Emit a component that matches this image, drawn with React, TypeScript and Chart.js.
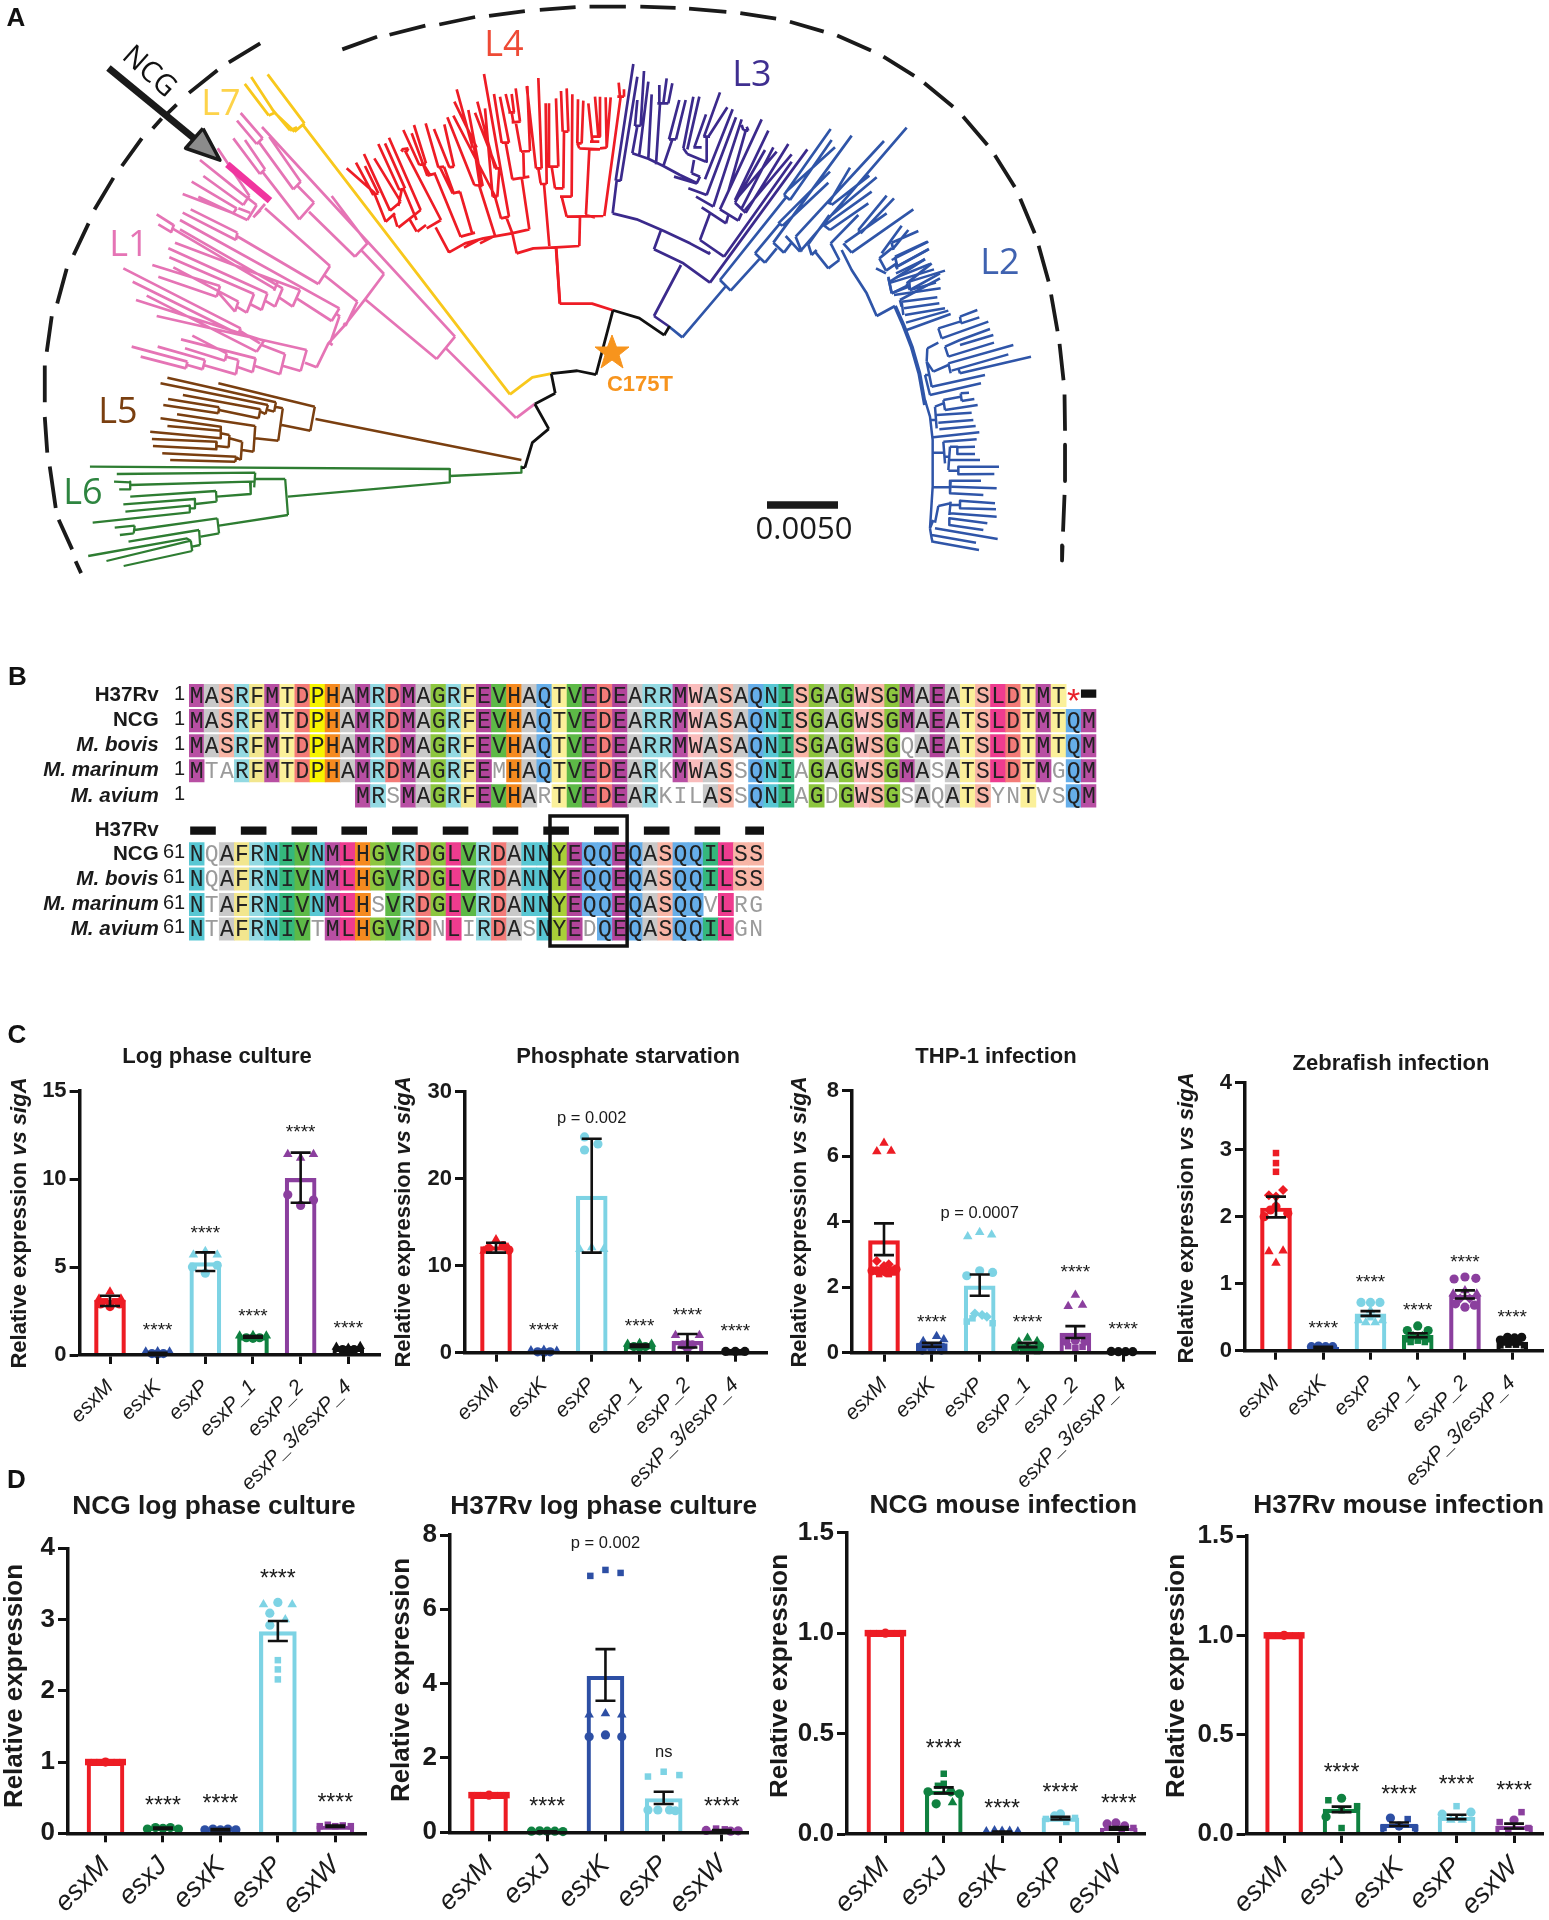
import { useEffect, useRef } from "react";
import { Chart, registerables } from "chart.js";

Chart.register(...registerables);

const SANS = "'Liberation Sans', Arial, sans-serif";
const HUMAN = "'Open Sans', sans-serif";
const MONO = "'Liberation Mono', 'Courier New', monospace";

/* ---------- panels C and D: values ---------- */
const RED = "#ed1c24", BLUE = "#2d4fa4", CYAN = "#7dd3e4", GREEN = "#0f8140", PURPLE = "#8b3f9e", BLACK = "#111111";
const genesC = ["esxM", "esxK", "esxP", "esxP_1", "esxP_2", "esxP_3/esxP_4"];
const genesD = ["esxM", "esxJ", "esxK", "esxP", "esxW"];
const colorsC = [RED, BLUE, CYAN, GREEN, PURPLE, BLACK];
const colorsD = [RED, GREEN, BLUE, CYAN, PURPLE];

type Dot = [number, number, string];
const logMeans = [3.12, 0.1, 5.25, 1.04, 10.04, 0.35];
const logLow = [2.78, 0.08, 4.77, 0.98, 8.65, 0.3];
const logHigh = [3.37, 0.12, 5.83, 1.08, 11.5, 0.42];
const logDots: Dot[][] = [
  [[-0.23, 3.2, "t"], [0, 3.6, "t"], [0.23, 3.2, "t"], [-0.2, 2.9, "c"], [0, 2.75, "c"], [0.2, 2.9, "c"], [-0.1, 3.05, "s"], [0.1, 3.05, "s"]],
  [[-0.25, 0.18, "t"], [0, 0.2, "t"], [0.25, 0.18, "t"], [-0.12, 0.08, "c"], [0.12, 0.08, "c"], [0, 0.06, "c"]],
  [[-0.25, 5.7, "t"], [0, 5.9, "t"], [0.25, 5.7, "t"], [-0.27, 5.0, "c"], [0.25, 5.1, "c"], [0, 4.65, "c"]],
  [[-0.28, 1.1, "t"], [0.28, 1.1, "t"], [0, 1.12, "t"], [-0.14, 0.98, "c"], [0.14, 0.98, "c"], [0, 0.95, "c"]],
  [[-0.27, 11.4, "t"], [0.27, 11.4, "t"], [0, 11.2, "t"], [-0.27, 9.1, "c"], [0.27, 8.8, "c"], [0, 8.5, "c"]],
  [[-0.25, 0.45, "t"], [0.25, 0.5, "t"], [0, 0.4, "t"], [-0.12, 0.3, "c"], [0.12, 0.3, "c"], [0, 0.28, "c"]],
];
const logStars: number[][] = [[1, 1.6], [2, 7.14], [3, 2.42], [4, 12.84], [5, 1.74]];

const phosMeans = [12.2, 0.1, 18, 0.8, 1.3, 0.08];
const phosLow = [11.5, 0.06, 11.5, 0.65, 0.6, 0.05];
const phosHigh = [12.64, 0.14, 24.6, 0.95, 2.15, 0.1];
const phosDots: Dot[][] = [
  [[-0.25, 11.7, "t"], [0, 13, "t"], [0.25, 12.1, "t"], [-0.15, 12, "c"], [0.15, 12.3, "c"], [0.27, 11.8, "c"]],
  [[-0.27, 0.25, "t"], [0, 0.3, "t"], [0.27, 0.2, "t"], [-0.13, 0.1, "c"], [0.13, 0.1, "c"], [0, 0.05, "c"]],
  [[-0.15, 24.8, "c"], [-0.15, 23.3, "c"], [0.13, 24, "c"], [-0.25, 11.9, "t"], [0, 12.1, "t"], [0.25, 11.9, "t"]],
  [[-0.25, 1, "t"], [0, 1.1, "t"], [0.25, 1, "t"], [-0.12, 0.7, "c"], [0.12, 0.7, "c"], [0, 0.65, "c"]],
  [[-0.25, 2.0, "t"], [0.25, 2.0, "t"], [0, 1.2, "t"], [0, 0.5, "c"], [-0.1, 0.9, "c"], [0.1, 0.9, "c"]],
  [[-0.2, 0.15, "c"], [0, 0.15, "c"], [0.2, 0.15, "c"], [-0.1, 0.05, "s"], [0.1, 0.05, "s"]],
];
const phosStars: number[][] = [[1, 3], [3, 3.45], [4, 4.67], [5, 2.9]];
const phosNotes: [number, number, string][] = [[2, 26.9, "p = 0.002"]];

const thpMeans = [3.42, 0.28, 2.04, 0.25, 0.6, 0.03];
const thpLow = [2.98, 0.18, 1.74, 0.17, 0.45, 0.02];
const thpHigh = [3.95, 0.3, 2.39, 0.3, 0.81, 0.04];
const thpDots: Dot[][] = [
  [[-0.15, 6.14, "t"], [0, 6.4, "t"], [0.15, 6.16, "t"], [-0.15, 2.8, "d"], [0.1, 2.7, "d"], [0, 2.65, "d"], [-0.25, 2.5, "c"], [-0.15, 2.5, "c"], [-0.05, 2.5, "c"], [0.05, 2.45, "c"], [0.15, 2.5, "c"], [0.25, 2.55, "c"], [-0.1, 2.4, "s"], [0.1, 2.4, "s"], [0.2, 2.45, "s"]],
  [[-0.18, 0.35, "t"], [0.1, 0.5, "t"], [0.25, 0.4, "t"], [-0.25, 0.2, "s"], [-0.1, 0.2, "s"], [0.05, 0.2, "s"], [0.2, 0.2, "s"], [-0.2, 0.08, "c"], [0, 0.08, "c"], [0.2, 0.08, "c"]],
  [[-0.25, 3.55, "t"], [0, 3.68, "t"], [0.25, 3.6, "t"], [-0.27, 2.35, "c"], [0, 2.5, "c"], [0.27, 2.45, "c"], [-0.1, 1.2, "d"], [0.05, 1.15, "d"], [0.15, 1.1, "d"], [-0.27, 0.95, "s"], [0.27, 0.9, "s"], [-0.15, 1.05, "s"]],
  [[0, 0.45, "t"], [-0.18, 0.33, "t"], [0.2, 0.35, "t"], [-0.25, 0.15, "c"], [0.25, 0.2, "c"], [0, 0.15, "c"], [-0.1, 0.05, "s"], [0.1, 0.08, "s"], [0.2, 0.05, "s"]],
  [[0, 1.76, "t"], [-0.15, 1.42, "t"], [0.15, 1.46, "t"], [-0.2, 0.35, "c"], [0, 0.38, "c"], [0.2, 0.35, "c"], [-0.15, 0.2, "s"], [0, 0.15, "s"], [0.15, 0.18, "s"]],
  [[-0.25, 0.04, "c"], [-0.1, 0.03, "c"], [0.05, 0.03, "c"], [0.2, 0.03, "c"]],
];
const thpStars: number[][] = [[1, 1.05], [3, 1.05], [4, 2.56], [5, 0.84]];
const thpNotes: [number, number, string][] = [[2, 4.25, "p = 0.0007"]];

const zebMeans = [2.13, 0.05, 0.55, 0.23, 0.83, 0.13];
const zebLow = [1.99, 0.04, 0.52, 0.2, 0.78, 0.11];
const zebHigh = [2.3, 0.06, 0.59, 0.26, 0.9, 0.15];
const zebDots: Dot[][] = [
  [[0, 2.95, "s"], [0, 2.8, "s"], [0, 2.67, "s"], [0.15, 2.4, "d"], [0, 2.3, "d"], [-0.15, 2.32, "d"], [-0.25, 2.0, "c"], [0.25, 2.05, "c"], [0, 2.15, "c"], [-0.12, 2.1, "c"], [-0.15, 1.48, "t"], [0.15, 1.49, "t"], [0, 1.31, "t"]],
  [[-0.25, 0.06, "c"], [-0.1, 0.07, "c"], [0.05, 0.06, "c"], [0.2, 0.06, "c"], [-0.15, 0.04, "s"], [0.15, 0.04, "s"]],
  [[-0.2, 0.72, "c"], [0, 0.72, "c"], [0.2, 0.72, "c"], [0, 0.6, "t"], [-0.25, 0.45, "t"], [0.25, 0.45, "t"], [-0.1, 0.42, "t"], [0.1, 0.42, "t"], [0, 0.5, "s"]],
  [[0, 0.37, "c"], [-0.22, 0.3, "c"], [0.22, 0.3, "c"], [-0.25, 0.17, "s"], [0.25, 0.17, "s"], [0, 0.15, "s"], [-0.1, 0.22, "d"], [0.1, 0.22, "d"], [-0.15, 0.13, "s"], [0.15, 0.13, "s"]],
  [[-0.23, 1.07, "c"], [0, 1.1, "c"], [0.23, 1.08, "c"], [-0.25, 0.85, "t"], [0.25, 0.85, "t"], [0, 0.9, "t"], [-0.2, 0.7, "c"], [0, 0.65, "c"], [0.2, 0.68, "c"], [-0.1, 0.78, "d"], [0.1, 0.78, "d"]],
  [[-0.25, 0.16, "c"], [-0.1, 0.2, "c"], [0.05, 0.19, "c"], [0.2, 0.2, "c"], [-0.25, 0.08, "s"], [-0.08, 0.09, "s"], [0.08, 0.09, "s"], [0.25, 0.08, "s"], [0, 0.13, "s"]],
];
const zebStars: number[][] = [[1, 0.39], [2, 1.07], [3, 0.66], [4, 1.37], [5, 0.56]];

const ncgLogMeans = [1, 0.07, 0.05, 2.83, 0.1];
const ncgLogLow = [1, 0.06, 0.04, 2.7, 0.09];
const ncgLogHigh = [1, 0.08, 0.06, 2.98, 0.11];
const ncgLogDots: Dot[][] = [
  [[-0.3, 1, "s"], [-0.2, 1, "s"], [-0.1, 1, "s"], [0, 1, "c"], [0.1, 1, "s"], [0.2, 1, "s"], [0.3, 1, "s"]],
  [[-0.27, 0.06, "c"], [-0.13, 0.08, "c"], [0, 0.07, "c"], [0.13, 0.08, "c"], [0.27, 0.06, "c"]],
  [[-0.27, 0.05, "c"], [-0.13, 0.06, "c"], [0, 0.05, "c"], [0.13, 0.06, "c"], [0.27, 0.05, "c"]],
  [[-0.25, 3.21, "t"], [0.25, 3.21, "t"], [0, 3.24, "c"], [-0.14, 3.09, "c"], [-0.14, 2.92, "c"], [0.13, 3.0, "t"], [0, 2.43, "s"], [0, 2.3, "s"], [0, 2.16, "s"]],
  [[-0.27, 0.1, "s"], [-0.13, 0.12, "s"], [0, 0.1, "s"], [0.13, 0.11, "s"], [0.27, 0.1, "s"]],
];
const ncgLogStars: number[][] = [[1, 0.44], [2, 0.47], [3, 3.63], [4, 0.49]];

const rvLogMeans = [1, 0.02, 4.2, 0.91, 0.05];
const rvLogLow = [1, 0.01, 3.54, 0.76, 0.04];
const rvLogHigh = [1, 0.03, 4.93, 1.09, 0.06];
const rvLogDots: Dot[][] = [
  [[-0.3, 1, "s"], [-0.2, 1, "s"], [-0.1, 1, "s"], [0, 1, "c"], [0.1, 1, "s"], [0.2, 1, "s"], [0.3, 1, "s"]],
  [[-0.27, 0.03, "c"], [-0.13, 0.04, "c"], [0, 0.03, "c"], [0.13, 0.03, "c"], [0.27, 0.02, "c"]],
  [[0, 7.06, "s"], [-0.26, 6.9, "s"], [0.26, 6.98, "s"], [-0.28, 3.16, "t"], [0, 3.2, "t"], [0.28, 3.16, "t"], [-0.28, 2.57, "c"], [0, 2.62, "c"], [0.28, 2.57, "c"]],
  [[0, 1.63, "s"], [-0.27, 1.5, "s"], [0.27, 1.54, "s"], [-0.27, 0.6, "c"], [-0.1, 0.6, "c"], [0.1, 0.6, "c"], [0.2, 0.58, "c"]],
  [[-0.27, 0.05, "c"], [-0.1, 0.1, "s"], [0.05, 0.08, "s"], [0.15, 0.03, "c"], [0.28, 0.04, "c"]],
];
const rvLogStars: number[][] = [[1, 0.8], [4, 0.8]];
const rvLogNotes: [number, number, string][] = [[2, 7.78, "p = 0.002"], [3, 2.14, "ns"]];

const ncgMouseMeans = [1, 0.214, 0.01, 0.08, 0.03];
const ncgMouseLow = [1, 0.202, 0.005, 0.072, 0.022];
const ncgMouseHigh = [1, 0.232, 0.012, 0.086, 0.034];
const ncgMouseDots: Dot[][] = [
  [[-0.3, 1, "s"], [-0.2, 1, "s"], [-0.1, 1, "s"], [0, 1, "c"], [0.1, 1, "s"], [0.2, 1, "s"], [0.3, 1, "s"]],
  [[0, 0.3, "s"], [0, 0.25, "s"], [-0.1, 0.24, "s"], [-0.27, 0.21, "c"], [0.27, 0.2, "c"], [0.12, 0.21, "c"], [-0.13, 0.15, "c"], [0.15, 0.157, "t"]],
  [[-0.27, 0.012, "t"], [-0.13, 0.018, "t"], [0, 0.015, "t"], [0.13, 0.015, "t"], [0.27, 0.012, "t"]],
  [[-0.25, 0.075, "s"], [-0.1, 0.09, "c"], [0, 0.1, "c"], [0.1, 0.06, "s"], [0.25, 0.08, "s"]],
  [[-0.2, 0.05, "c"], [-0.05, 0.055, "c"], [0.1, 0.04, "c"], [0.25, 0.03, "s"], [0.05, 0.015, "s"]],
];
const ncgMouseStars: number[][] = [[1, 0.443], [2, 0.144], [3, 0.227], [4, 0.169]];

const rvMouseMeans = [1, 0.125, 0.05, 0.085, 0.04];
const rvMouseLow = [1, 0.11, 0.04, 0.075, 0.028];
const rvMouseHigh = [1, 0.138, 0.058, 0.097, 0.052];
const rvMouseDots: Dot[][] = [
  [[-0.3, 1, "s"], [-0.2, 1, "s"], [-0.1, 1, "s"], [0, 1, "c"], [0.1, 1, "s"], [0.2, 1, "s"], [0.3, 1, "s"]],
  [[0, 0.18, "c"], [-0.23, 0.17, "s"], [0.27, 0.14, "s"], [0, 0.12, "s"], [-0.27, 0.087, "c"], [0, 0.03, "s"]],
  [[-0.15, 0.08, "c"], [0.15, 0.075, "s"], [-0.27, 0.03, "s"], [0.28, 0.03, "s"], [0, 0.04, "c"]],
  [[0, 0.14, "s"], [-0.25, 0.1, "c"], [0.25, 0.11, "c"], [-0.1, 0.07, "t"], [0.1, 0.07, "t"]],
  [[0.13, 0.11, "s"], [-0.25, 0.06, "s"], [0, 0.07, "c"], [0.25, 0.03, "s"], [-0.1, 0.01, "s"]],
];
const rvMouseStars: number[][] = [[1, 0.327], [2, 0.216], [3, 0.27], [4, 0.238]];

/* ---------- panels C and D: layout ---------- */
type Spec = {
  rect: number[]; axisX: number; endX: number; topY: number; zeroY: number; firstX: number; lastX: number;
  title: string; titleX: number; titleY: number; titleSize: number;
  ylabelX: number; ylabelY: number; ylabelSize: number; sigA: boolean;
  labels: string[]; colors: string[]; means: number[]; low: number[]; high: number[]; dots: Dot[][];
  stars: number[][]; notes?: [number, number, string][];
  max: number; step: number; decimals: number; tickSize: number; xSize: number; xPad: number; starSize: number; barW: number;
};
const cCommon = { labels: genesC, colors: colorsC, ylabelSize: 22, sigA: true, titleSize: 22, tickSize: 22, xSize: 21, xPad: 11, starSize: 19, barW: 31, decimals: 0 };
const dCommon = { labels: genesD, colors: colorsD, ylabelSize: 26, sigA: false, titleSize: 26.3, tickSize: 26, xSize: 27, xPad: 8, starSize: 23, barW: 37 };
const specs: Spec[] = [
  { ...cCommon, rect: [0, 1040, 392, 455], axisX: 79.6, endX: 380.6, topY: 1091, zeroY: 1355, firstX: 110, lastX: 348.3, title: "Log phase culture", titleX: 217, titleY: 1056.7, ylabelX: 20, ylabelY: 1223, means: logMeans, low: logLow, high: logHigh, dots: logDots, stars: logStars, max: 15, step: 5 },
  { ...cCommon, rect: [392, 1040, 384, 455], axisX: 465, endX: 767, topY: 1091.7, zeroY: 1352.7, firstX: 496, lastX: 735.3, title: "Phosphate starvation", titleX: 628, titleY: 1056.7, ylabelX: 404, ylabelY: 1222, means: phosMeans, low: phosLow, high: phosHigh, dots: phosDots, stars: phosStars, notes: phosNotes, max: 30, step: 10 },
  { ...cCommon, rect: [776, 1040, 386, 455], axisX: 852, endX: 1155.6, topY: 1090.7, zeroY: 1352.7, firstX: 884, lastX: 1123.2, title: "THP-1 infection", titleX: 996, titleY: 1056.7, ylabelX: 800, ylabelY: 1222, means: thpMeans, low: thpLow, high: thpHigh, dots: thpDots, stars: thpStars, notes: thpNotes, max: 8, step: 2 },
  { ...cCommon, rect: [1162, 1040, 387, 455], axisX: 1245, endX: 1543.6, topY: 1082.7, zeroY: 1350.7, firstX: 1276, lastX: 1512.3, title: "Zebrafish infection", titleX: 1391, titleY: 1064, ylabelX: 1187, ylabelY: 1218, means: zebMeans, low: zebLow, high: zebHigh, dots: zebDots, stars: zebStars, max: 4, step: 1 },
  { ...dCommon, rect: [0, 1490, 385, 430], axisX: 68, endX: 366.7, topY: 1548.3, zeroY: 1833.3, firstX: 105.5, lastX: 335.3, title: "NCG log phase culture", titleX: 214, titleY: 1506.7, ylabelX: 15, ylabelY: 1686, means: ncgLogMeans, low: ncgLogLow, high: ncgLogHigh, dots: ncgLogDots, stars: ncgLogStars, max: 4, step: 1, decimals: 0 },
  { ...dCommon, rect: [385, 1490, 385, 430], axisX: 450, endX: 748.8, topY: 1535, zeroY: 1832.3, firstX: 489, lastX: 721.9, title: "H37Rv log phase culture", titleX: 603.7, titleY: 1506.7, ylabelX: 402, ylabelY: 1680, means: rvLogMeans, low: rvLogLow, high: rvLogHigh, dots: rvLogDots, stars: rvLogStars, notes: rvLogNotes, max: 8, step: 2, decimals: 0 },
  { ...dCommon, rect: [770, 1490, 390, 430], axisX: 847, endX: 1145.6, topY: 1532.7, zeroY: 1834, firstX: 885.4, lastX: 1118.8, title: "NCG mouse infection", titleX: 1003.3, titleY: 1506, ylabelX: 780, ylabelY: 1676, means: ncgMouseMeans, low: ncgMouseLow, high: ncgMouseHigh, dots: ncgMouseDots, stars: ncgMouseStars, max: 1.5, step: 0.5, decimals: 1 },
  { ...dCommon, rect: [1160, 1490, 389, 430], axisX: 1246.6, endX: 1546, topY: 1536, zeroY: 1834, firstX: 1284.4, lastX: 1516.3, title: "H37Rv mouse infection", titleX: 1398.7, titleY: 1506, ylabelX: 1177, ylabelY: 1676, means: rvMouseMeans, low: rvMouseLow, high: rvMouseHigh, dots: rvMouseDots, stars: rvMouseStars, max: 1.5, step: 0.5, decimals: 1 },
];
const shapeNames: Record<string, string> = { t: "triangle", c: "circle", s: "rect", d: "rectRot" };
const shapeRadius: Record<string, number> = { t: 5.5, c: 4.6, s: 4.6, d: 5 };

function makeBarChart(canvas: HTMLCanvasElement, s: Spec) {
  const [L, T, W, H] = s.rect;
  const n = s.labels.length;
  const stepX = (s.lastX - s.firstX) / (n - 1);
  const capW = 10 / stepX;
  const whisker: any[] = [];
  s.means.forEach((_, i) => {
    const lo = s.low[i], hi = s.high[i];
    if (lo === hi) return;
    whisker.push({ x: i, y: lo }, { x: i, y: hi }, { x: i, y: null }, { x: i - capW, y: hi }, { x: i + capW, y: hi }, { x: i, y: null }, { x: i - capW, y: lo }, { x: i + capW, y: lo }, { x: i, y: null });
  });
  const dotData: any[] = [], dotStyle: string[] = [], dotColor: string[] = [], dotRadius: number[] = [];
  s.dots.forEach((list, i) => list.forEach(([dx, y, sh]) => {
    dotData.push({ x: i + dx, y });
    dotStyle.push(shapeNames[sh]);
    dotColor.push(s.colors[i]);
    dotRadius.push(shapeRadius[sh]);
  }));
  const annot = {
    id: "annot",
    afterDraw(chart: any) {
      const c = chart.ctx, sx = chart.scales.x, sy = chart.scales.y;
      c.save();
      c.fillStyle = "#1a1a1a";
      c.textAlign = "center";
      c.textBaseline = "middle";
      c.font = `bold ${s.titleSize}px ${SANS}`;
      c.fillText(s.title, s.titleX - L, s.titleY - T);
      c.font = `normal ${s.starSize}px ${SANS}`;
      s.stars.forEach(([i, v]) => c.fillText("****", sx.getPixelForValue(i), sy.getPixelForValue(v) + s.starSize * 0.22));
      c.font = `normal 16.5px ${SANS}`;
      (s.notes || []).forEach(([i, v, t]) => c.fillText(t, sx.getPixelForValue(i), sy.getPixelForValue(v)));
      // y axis title with its italic runs
      c.translate(s.ylabelX - L, s.ylabelY - T);
      c.rotate(-Math.PI / 2);
      const runs: [string, string][] = s.sigA
        ? [["Relative expression ", "bold"], ["vs ", "italic bold"], ["sigA", "italic bold"]]
        : [["Relative expression", "bold"]];
      let total = 0;
      runs.forEach(([t, f]) => { c.font = `${f} ${s.ylabelSize}px ${SANS}`; total += c.measureText(t).width; });
      let x = -total / 2;
      c.textAlign = "left";
      runs.forEach(([t, f]) => { c.font = `${f} ${s.ylabelSize}px ${SANS}`; c.fillText(t, x, 0); x += c.measureText(t).width; });
      c.restore();
    },
  };
  return new Chart(canvas, {
    type: "bar",
    data: {
      datasets: [
        { type: "scatter", showLine: true, data: whisker, borderColor: "#111", borderWidth: 2.6, pointRadius: 0, spanGaps: false, clip: false, order: 0 } as any,
        { type: "scatter", data: dotData, pointStyle: dotStyle, pointBackgroundColor: dotColor, pointBorderWidth: 0, pointRadius: dotRadius, clip: false, order: 1 } as any,
        { type: "bar", data: s.means.map((v, i) => ({ x: i, y: v })), backgroundColor: "rgba(255,255,255,0)", borderColor: s.colors, borderWidth: 3.5, barThickness: s.barW, borderSkipped: "bottom", order: 2 } as any,
      ],
    },
    options: {
      animation: false,
      responsive: false,
      maintainAspectRatio: false,
      layout: { padding: { top: s.topY - T, right: L + W - s.endX, left: 0, bottom: 0 } },
      plugins: { legend: { display: false }, tooltip: { enabled: false }, title: { display: false } },
      scales: {
        x: {
          type: "linear",
          offset: false,
          min: (s.axisX - s.firstX) / stepX,
          max: (s.endX - s.firstX) / stepX,
          afterBuildTicks: (sc: any) => { sc.ticks = s.labels.map((_, i) => ({ value: i })); },
          afterFit: (sc: any) => { sc.height = T + H - s.zeroY; },
          grid: { offset: false, drawOnChartArea: false, tickLength: 9, tickWidth: 3, tickColor: "#111", z: 1 },
          border: { width: 3.5, color: "#111", z: 1 },
          ticks: {
            autoSkip: false, maxRotation: 45, minRotation: 45, padding: s.xPad, color: "#1a1a1a",
            font: { family: SANS, size: s.xSize, style: "italic" },
            callback: (v: any) => s.labels[v],
          },
        },
        y: {
          type: "linear",
          min: 0,
          max: s.max,
          afterFit: (sc: any) => { sc.width = s.axisX - L; },
          grid: { drawOnChartArea: false, tickLength: 10, tickWidth: 3, tickColor: "#111", z: 1 },
          border: { width: 3.5, color: "#111", z: 1 },
          ticks: {
            stepSize: s.step, padding: 3, color: "#1a1a1a",
            font: { family: SANS, size: s.tickSize, weight: "bold" },
            callback: (v: any) => Number(v).toFixed(s.decimals),
          },
        },
      },
    } as any,
    plugins: [annot],
  } as any);
}

/* ---------- panel B: values ---------- */
const seqTop = [
  "MASRFMTDPHAMRDMAGRFEVHAQTVEDEARRMWASAQNISGAGWSGMAEATSLDTMT",
  "MASRFMTDPHAMRDMAGRFEVHAQTVEDEARRMWASAQNISGAGWSGMAEATSLDTMTQM",
  "MASRFMTDPHAMRDMAGRFEVHAQTVEDEARRMWASAQNISGAGWSGqAEATSLDTMTQM",
  "MtaRFMTDPHAMRDMAGRFEmHAQTVEDEARkMWASsQNIaGAGWSGMAsATSLDTMgQM",
  "           MRsMAGRFEVHArTVEDEARkilASsQNIaGdGWSGsAqATSynTvsQM",
];
const seqBottom = [
  "NqAFRNIVNMLHGVRDGLVRDANNYEQQEQASQQILSS",
  "NqAFRNIVNMLHGVRDGLVRDANNYEQQEQASQQILSS",
  "NtAFRNIVNMLHsVRDGLVRDANNYEQQEQASQQvLrg",
  "NtAFRNIVtMLHGVRDnLiRDAsNYEdQEQASQQILgn",
];
const namesTop = ["H37Rv", "NCG", "M. bovis", "M. marinum", "M. avium"];
const namesBottom = ["NCG", "M. bovis", "M. marinum", "M. avium"];
const rowsTop = [0, 1, 2, 3, 4];
const dashRow = 5.38;
const rowsBottom = [6.31, 7.31, 8.33, 9.3];
const dashCols = [[0.1, 1.75], [3.45, 5.1], [6.8, 8.45], [10.1, 11.75], [13.45, 15.1], [16.8, 18.45], [20.1, 21.75], [23.45, 25.1], [26.8, 28.4], [30.1, 31.75], [33.45, 35.1], [36.8, 38]];
const stopCol = [59, 60];
const residueColors: Record<string, string> = {
  M: "#b84fa3", A: "#c9c9c9", S: "#f8b5a6", R: "#93d9e2", F: "#f2e68e", T: "#fbf09a", D: "#f37b78", P: "#f7f400", H: "#f58a1f",
  G: "#8dc63f", E: "#b2459b", V: "#5db947", Q: "#66aee9", N: "#58c7d3", I: "#35b77c", W: "#f9bcbc", L: "#ee3c8f", Y: "#a8cf38",
};

function makeAlignment(canvas: HTMLCanvasElement) {
  const cells: any[] = [], fills: string[] = [];
  const addRow = (seq: string, row: number) => {
    [...seq].forEach((ch, c) => {
      if (residueColors[ch]) { cells.push({ x: [c, c + 1], y: row }); fills.push(residueColors[ch]); }
    });
  };
  seqTop.forEach((q, i) => addRow(q, rowsTop[i]));
  seqBottom.forEach((q, i) => addRow(q, rowsBottom[i]));
  const blocks = dashCols.map((d) => ({ x: d, y: dashRow }));
  blocks.push({ x: stopCol, y: -0.07 });
  const annot = {
    id: "annotB",
    afterDatasetsDraw(chart: any) {
      const c = chart.ctx, sx = chart.scales.x, sy = chart.scales.y;
      c.save();
      c.textBaseline = "middle";
      const writeRow = (seq: string, row: number) => {
        c.textAlign = "center";
        c.font = `normal 23px ${MONO}`;
        [...seq].forEach((ch, k) => {
          if (ch === " ") return;
          const shaded = ch === ch.toUpperCase();
          c.fillStyle = shaded ? "#222" : "#9b9b9b";
          c.fillText(ch.toUpperCase(), sx.getPixelForValue(k + 0.5), sy.getPixelForValue(row) + 1);
        });
      };
      seqTop.forEach((q, i) => writeRow(q, rowsTop[i]));
      seqBottom.forEach((q, i) => writeRow(q, rowsBottom[i]));
      c.fillStyle = "#e8202a";
      c.font = `normal 34px ${SANS}`;
      c.textAlign = "center";
      c.fillText("*", sx.getPixelForValue(58.5), sy.getPixelForValue(0) + 7);
      const nameAt = (t: string, row: number, num: string) => {
        const latin = t.startsWith("M.");
        c.fillStyle = "#1a1a1a";
        c.textAlign = "right";
        c.font = `${latin ? "italic " : ""}bold 20.6px ${SANS}`;
        c.fillText(t, sx.getPixelForValue(-2), sy.getPixelForValue(row));
        if (num) {
          c.font = `normal 20px ${SANS}`;
          c.fillText(num, sx.getPixelForValue(-0.25), sy.getPixelForValue(row) - 1);
        }
      };
      namesTop.forEach((t, i) => nameAt(t, rowsTop[i], "1"));
      nameAt("H37Rv", dashRow, "");
      namesBottom.forEach((t, i) => nameAt(t, rowsBottom[i], "61"));
      c.strokeStyle = "#111";
      c.lineWidth = 3.5;
      const x0 = sx.getPixelForValue(23.87), x1 = sx.getPixelForValue(28.97), y0 = sy.getPixelForValue(4.8), y1 = sy.getPixelForValue(9.98);
      c.strokeRect(x0, y0, x1 - x0, y1 - y0);
      c.restore();
    },
  };
  return new Chart(canvas, {
    type: "bar",
    data: {
      datasets: [
        { data: cells, backgroundColor: fills, barThickness: 22.4, borderWidth: 0, grouped: false, order: 2 } as any,
        { data: blocks, backgroundColor: "#111", barThickness: 7.6, borderWidth: 0, grouped: false, order: 1 } as any,
      ],
    },
    options: {
      indexAxis: "y",
      animation: false,
      responsive: false,
      maintainAspectRatio: false,
      layout: { padding: { left: 189, right: 1120 - 1096.4, top: 682.95 - 660, bottom: 970 - 946.5 } },
      plugins: { legend: { display: false }, tooltip: { enabled: false } },
      scales: {
        x: { type: "linear", min: 0, max: 60, display: false, offset: false },
        y: { type: "linear", min: -0.5, max: 10, reverse: true, display: false, offset: false },
      },
    } as any,
    plugins: [annot],
  } as any);
}

/* ---------- panel A: tree branches, as read in views of the tree ---------- */
type Branches = number[][];
const viewFull = { ox: 0, oy: 0, sx: 1 / 2.01, sy: 1 / 2.53 };
const viewRight = { ox: 770, oy: 0, sx: 1 / 2.01, sy: 1 / 2.53 };
const viewL1 = { ox: 110, oy: 130, sx: 1 / 3, sy: 1 / 3 };
const viewL4 = { ox: 340, oy: 80, sx: 1 / 3, sy: 1 / 3 };
const viewL3 = { ox: 600, oy: 60, sx: 1 / 3, sy: 1 / 3 };
const viewL2 = { ox: 880, oy: 240, sx: 1 / 3, sy: 1 / 3 };
const viewL56 = { ox: 40, oy: 370, sx: 1 / 2.904, sy: 1 / 3 };

const branchesL1: Branches = [
  [1218, 864, 1008, 655], [1035, 620, 980, 687], [1035, 620, 456, -9], [980, 687, 765, 508],
  [822, 432, 765, 508, 705, 585, 655, 640, 620, 712], [742, 515, 708, 585, 700, 580], [688, 560, 660, 640, 668, 645],
  [822, 432, 755, 362], [772, 340, 735, 380], [772, 340, 665, 198], [735, 380, 597, 245], [612, 218, 568, 268],
  [612, 218, 560, 165], [572, 155, 550, 178], [572, 155, 478, 20], [550, 178, 448, 38], [458, 25, 440, 42],
  [458, 25, 392, -51], [440, 42, 381, -28], [568, 268, 457, 125], [465, 118, 450, 132], [465, 118, 405, 30], [450, 132, 370, 25],
  [465, 235, 660, 408], [660, 408, 625, 462], [418, 197, 400, 225], [440, 225, 412, 270], [380, 235, 370, 250], [465, 222, 430, 262],
  [418, 197, 323, 55], [400, 225, 280, 138], [412, 270, 265, 200], [380, 235, 245, 155], [370, 250, 218, 192], [430, 262, 452, 240],
  [440, 225, 395, 190], [395, 190, 270, 90], [420, 248, 385, 235],
  [625, 462, 380, 318], [382, 308, 378, 330], [382, 308, 242, 238], [378, 330, 218, 248], [642, 435, 742, 515],
  [688, 535, 665, 573], [680, 552, 690, 560], [688, 535, 210, 270], [665, 573, 560, 505], [570, 480, 548, 530], [570, 480, 195, 338],
  [548, 530, 508, 503], [518, 475, 495, 530], [518, 475, 210, 298], [495, 530, 465, 512], [472, 490, 455, 540], [472, 490, 175, 355],
  [455, 540, 420, 522], [432, 492, 410, 548], [432, 492, 178, 382], [410, 548, 380, 530], [385, 515, 375, 545], [385, 515, 190, 412],
  [375, 545, 325, 488], [330, 468, 320, 500], [330, 468, 127, 405], [320, 500, 145, 440],
  [620, 712, 585, 698], [590, 660, 572, 723], [590, 660, 140, 558], [572, 723, 520, 708], [525, 672, 510, 733], [525, 672, 455, 645],
  [462, 632, 440, 665], [510, 733, 435, 708], [437, 685, 428, 727], [437, 685, 213, 628], [428, 727, 385, 712], [385, 690, 378, 733],
  [385, 690, 348, 680], [350, 670, 345, 692], [350, 670, 247, 617], [345, 692, 225, 655], [378, 733, 280, 705], [285, 690, 278, 718],
  [285, 690, 143, 650], [278, 718, 232, 705], [232, 695, 228, 715], [232, 695, 65, 650], [228, 715, 92, 680],
  [392, 595, 385, 612], [392, 595, 40, 415], [385, 612, 68, 455], [390, 603, 450, 640], [440, 665, 110, 497], [462, 632, 78, 510],
  [140, 253, 190, 285], [145, 283, 185, 307], [192, 283, 183, 308], [188, 296, 497, 478], [502, 458, 492, 482],
];
const branchesRootPink: Branches = [[1038, 1057, 1075, 1022]];
const branchNCG: Branches = [[352, 103, 480, 212]];

const branchesL7: Branches = [
  [1108, 945, 1070, 955, 1025, 998], [1025, 998, 610, 318], [612, 312, 592, 333], [612, 312, 538, 188],
  [592, 333, 552, 285], [583, 330, 597, 322], [552, 285, 540, 292], [552, 285, 505, 195], [540, 292, 492, 212], [583, 330, 546, 275],
];

const branchesL4: Branches = [
  [660, 670, 648, 505], [530, 520, 580, 505, 648, 502, 718, 498], [530, 520, 517, 460], [718, 498, 720, 410],
  [628, 498, 612, 312], [600, 312, 620, 312], [602, 310, 595, 265], [588, 265, 605, 265], [605, 265, 595, -6], [588, 265, 560, 18], [620, 312, 617, 70],
  [327, 517, 375, 490, 430, 475, 515, 460, 568, 448], [568, 448, 545, 292], [517, 298, 568, 290], [517, 298, 497, 188],
  [485, 188, 507, 188], [485, 188, 462, 42], [507, 188, 480, 50], [552, 290, 550, 215], [543, 215, 570, 213], [543, 215, 527, 125], [570, 213, 562, 18],
  [515, 127, 542, 125], [540, 125, 527, 25], [520, 127, 515, 97], [505, 97, 525, 97], [510, 97, 497, 42], [522, 97, 515, 42],
  [517, 460, 500, 415], [483, 415, 507, 410], [483, 415, 465, 350], [458, 350, 472, 350], [458, 350, 435, 85], [472, 350, 478, 265], [465, 265, 480, 265], [465, 265, 412, 65], [507, 410, 432, -18],
  [327, 517, 287, 442], [260, 445, 303, 420], [303, 420, 195, 212], [185, 208, 205, 205], [183, 208, 190, 215], [205, 205, 200, 215],
  [238, 255, 258, 250], [238, 255, 190, 150], [258, 250, 222, 135], [250, 252, 270, 285], [262, 287, 288, 280], [262, 287, 215, 160],
  [285, 283, 362, 470], [295, 262, 312, 260], [295, 262, 257, 130], [312, 260, 340, 337], [328, 262, 342, 260], [328, 262, 282, 147], [342, 260, 313, 133],
  [338, 340, 360, 335], [338, 340, 300, 262], [360, 335, 397, 462], [398, 203, 410, 203], [398, 203, 350, 28], [410, 203, 343, 65], [402, 200, 420, 318],
  [403, 315, 428, 318], [403, 315, 322, 112], [428, 318, 385, 90], [418, 318, 465, 467], [362, 470, 405, 458], [372, 503, 415, 480], [420, 490, 460, 470],
  [470, 265, 405, 98], [465, 348, 340, 107],
  [137, 425, 165, 400], [137, 425, 105, 345], [100, 345, 115, 340], [100, 345, 48, 248], [105, 340, 20, 265], [115, 340, 75, 258],
  [150, 392, 182, 365], [150, 392, 72, 222], [182, 365, 103, 235], [175, 378, 185, 330], [178, 330, 195, 325], [178, 330, 115, 192], [195, 325, 135, 190],
  [175, 443, 242, 390], [172, 440, 160, 400], [242, 390, 147, 173], [210, 420, 230, 455], [232, 455, 258, 435], [230, 420, 190, 325],
  [660, 350, 695, 350], [665, 350, 680, 410], [645, 325, 670, 325], [645, 325, 635, 260], [628, 260, 655, 260], [628, 260, 627, 70], [655, 260, 648, 55],
  [670, 325, 672, 155], [668, 155, 685, 155], [668, 155, 663, 33], [685, 155, 680, 25], [695, 350, 697, 43],
  [680, 410, 790, 408], [735, 405, 765, 412], [738, 402, 748, 208], [718, 205, 780, 208], [718, 205, 712, 190], [712, 190, 725, 190], [712, 190, 714, 58], [725, 190, 730, 62],
  [750, 185, 778, 185], [757, 185, 745, 70], [755, 170, 782, 170], [775, 170, 765, 50], [782, 170, 780, 50], [780, 205, 800, 203], [800, 203, 797, 52], [800, 203, 812, 52],
  [793, 408, 842, 50], [832, 50, 852, 50], [840, 50, 836, 8], [852, 50, 852, 28],
];
const branchesRootRed: Branches = [[1125, 768, 1190, 768, 1232, 785], [1125, 768, 1118, 625]];

const branchesL3: Branches = [
  [162, 768, 205, 798], [162, 768, 243, 615], [162, 568, 250, 610, 330, 668], [330, 668, 622, 268], [162, 568, 183, 510],
  [38, 460, 110, 478, 190, 512, 270, 550, 330, 582], [330, 582, 325, 575], [38, 460, 50, 362], [47, 362, 62, 362], [47, 362, 100, 12], [62, 362, 112, 50],
  [97, 280, 145, 296, 190, 318, 240, 345, 292, 370], [97, 280, 112, 198], [105, 198, 122, 197], [105, 198, 112, 120], [122, 197, 132, 33],
  [118, 283, 145, 65], [145, 296, 155, 103], [172, 130, 205, 130], [178, 130, 178, 75], [190, 130, 200, 55], [205, 130, 217, 70], [168, 313, 180, 130],
  [190, 318, 217, 238], [207, 238, 228, 238], [207, 238, 238, 120], [228, 238, 257, 120],
  [222, 350, 290, 370], [262, 282, 250, 265], [250, 265, 280, 110], [262, 268, 298, 110], [280, 262, 305, 262], [283, 262, 318, 163], [262, 282, 318, 305],
  [318, 305, 320, 230], [310, 230, 330, 230], [312, 230, 360, 97], [325, 230, 382, 142], [275, 340, 300, 350], [282, 300, 275, 340], [300, 350, 290, 370],
  [315, 358, 398, 148], [265, 385, 320, 405], [320, 405, 408, 172], [288, 410, 340, 440], [340, 440, 425, 178], [305, 442, 378, 490], [330, 460, 300, 540],
  [300, 540, 372, 590], [372, 590, 575, 305], [378, 490, 385, 465], [360, 448, 415, 482], [360, 448, 485, 178], [430, 210, 445, 212], [437, 212, 385, 395], [430, 210, 425, 195], [445, 212, 440, 200],
  [415, 482, 425, 460], [405, 428, 437, 458], [405, 428, 495, 270], [437, 458, 565, 252], [425, 445, 520, 262], [415, 410, 530, 275], [435, 450, 575, 283], [405, 420, 505, 212],
];

const branchesL2Upper: Branches = [
  [205, 798, 247, 832], [247, 832, 378, 678], [360, 660, 392, 692], [360, 660, 558, 412], [552, 405, 570, 420], [552, 405, 692, 207], [570, 420, 695, 240],
  [535, 490, 548, 497], [535, 490, 690, 335], [548, 497, 685, 368], [558, 395, 705, 262], [392, 692, 480, 595], [465, 580, 495, 608], [465, 580, 540, 490],
  [495, 608, 530, 565], [520, 548, 552, 578], [520, 548, 755, 227], [552, 578, 573, 550], [557, 528, 600, 575], [587, 530, 605, 575], [587, 530, 852, 243], [600, 575, 920, 203],
  [685, 428, 695, 432], [688, 428, 750, 323], [695, 435, 808, 347], [695, 465, 830, 352], [670, 495, 690, 510], [675, 495, 815, 395], [690, 510, 805, 430],
  [625, 553, 635, 585], [625, 553, 688, 465], [635, 585, 650, 570], [645, 575, 685, 625], [685, 625, 718, 600], [692, 550, 718, 600], [692, 550, 775, 465],
  [775, 510, 782, 520], [775, 510, 860, 407], [782, 520, 882, 415], [730, 550, 755, 578], [735, 548, 860, 460], [755, 578, 940, 448],
  [725, 570, 755, 630, 800, 700, 830, 768], [830, 768, 885, 738],
  [828, 625, 858, 640], [838, 595, 858, 632], [838, 595, 875, 565], [875, 548, 880, 570], [875, 548, 955, 513], [880, 565, 925, 510], [845, 580, 905, 497],
  [858, 632, 890, 610], [885, 590, 892, 620], [885, 590, 982, 545], [892, 620, 987, 567], [870, 665, 975, 597], [865, 650, 875, 700], [920, 670, 930, 690],
  [920, 670, 995, 610], [930, 690, 1020, 640], [875, 700, 925, 680], [900, 720, 905, 740], [900, 720, 1020, 655],
];
const branchesL2Thick: Branches = [[45, 198, 70, 255, 95, 320, 118, 400, 135, 495]];
const branchesL2Lower: Branches = [
  [35, 60, 145, 5], [45, 82, 145, 28], [47, 72, 52, 88], [48, 100, 135, 58], [50, 112, 150, 72], [25, 130, 162, 88], [25, 115, 35, 160], [35, 160, 85, 135],
  [88, 125, 90, 150], [88, 125, 195, 92], [90, 150, 168, 128], [42, 165, 182, 145], [65, 185, 172, 172], [65, 185, 70, 225], [72, 205, 178, 190], [75, 225, 195, 205], [80, 270, 212, 222], [78, 248, 205, 212],
  [135, 405, 150, 405], [135, 405, 150, 465], [150, 465, 303, 430], [155, 440, 315, 405], [155, 440, 140, 365], [140, 365, 160, 395], [160, 395, 205, 375], [142, 325, 140, 365], [142, 325, 175, 308],
  [175, 265, 185, 295], [175, 265, 240, 245], [240, 230, 243, 250], [240, 230, 292, 210], [243, 250, 298, 232], [185, 295, 325, 245], [195, 320, 240, 300], [195, 320, 205, 350], [205, 350, 342, 308],
  [240, 300, 330, 267], [240, 315, 340, 285], [205, 370, 212, 400], [205, 370, 400, 315], [215, 392, 385, 343], [235, 385, 240, 400], [240, 400, 453, 350],
  [135, 480, 150, 530, 158, 600, 158, 740, 150, 865], [150, 540, 165, 540], [165, 500, 170, 565], [165, 500, 190, 490], [190, 480, 195, 510], [190, 480, 242, 470], [242, 460, 245, 483], [242, 460, 267, 458], [245, 483, 283, 477],
  [195, 510, 293, 495], [170, 525, 275, 518], [175, 548, 280, 540], [178, 568, 287, 558], [160, 592, 298, 577], [160, 638, 190, 638], [190, 605, 195, 670], [190, 605, 290, 598], [195, 650, 210, 650],
  [210, 620, 205, 690], [210, 620, 232, 620], [232, 620, 232, 642], [232, 622, 285, 620], [232, 642, 285, 642], [210, 660, 300, 660], [205, 692, 235, 692], [235, 680, 235, 703], [235, 680, 357, 680], [235, 703, 343, 702],
  [158, 742, 212, 742], [212, 722, 210, 760], [212, 722, 303, 722], [215, 740, 350, 745], [210, 760, 310, 765], [150, 865, 160, 840], [165, 848, 175, 798], [175, 798, 212, 790], [212, 785, 208, 825],
  [240, 782, 240, 805], [212, 795, 240, 795], [240, 782, 345, 790], [240, 805, 348, 808], [210, 820, 350, 830], [208, 835, 208, 855], [208, 835, 322, 850], [208, 855, 310, 870], [165, 865, 353, 897],
  [155, 895, 158, 908], [155, 885, 288, 908], [160, 905, 297, 930], [150, 865, 155, 895],
];

const branchesL5: Branches = [
  [1398, 270, 800, 147], [798, 110, 785, 182], [798, 110, 518, 40], [785, 182, 702, 165], [705, 115, 692, 212], [705, 115, 682, 110], [685, 97, 680, 125], [685, 97, 370, 23],
  [680, 125, 662, 120], [662, 105, 655, 132], [662, 105, 350, 40], [655, 132, 640, 125], [640, 118, 635, 145], [640, 118, 415, 75], [635, 145, 520, 120], [520, 112, 518, 130],
  [520, 112, 372, 87], [518, 130, 358, 105], [692, 212, 625, 205], [625, 168, 620, 245], [625, 168, 398, 133], [620, 245, 587, 240], [587, 215, 583, 270], [587, 215, 550, 205],
  [550, 195, 548, 232], [550, 195, 525, 190], [525, 170, 525, 205], [525, 170, 350, 145], [525, 182, 370, 168], [525, 205, 320, 185], [548, 232, 512, 228], [513, 215, 512, 238],
  [513, 215, 325, 207], [512, 238, 328, 228], [583, 270, 570, 262], [570, 260, 567, 275], [570, 260, 355, 250], [567, 275, 378, 270],
];
const branchesL6: Branches = [
  [1398, 290, 1398, 308], [1398, 308, 1190, 318], [1190, 297, 1190, 337], [1190, 297, 145, 290], [1190, 337, 720, 380], [712, 327, 720, 435], [712, 327, 625, 327], [625, 308, 622, 352], [625, 308, 223, 312],
  [622, 335, 610, 335], [610, 335, 612, 372], [610, 335, 262, 345], [262, 335, 262, 358], [262, 337, 215, 335], [262, 358, 230, 358], [612, 372, 513, 380], [511, 363, 513, 395], [511, 363, 262, 380],
  [513, 395, 452, 402], [450, 387, 450, 415], [450, 387, 242, 403], [450, 415, 435, 415], [435, 407, 435, 427], [435, 407, 248, 425], [435, 427, 153, 458], [720, 435, 520, 467], [515, 445, 520, 490],
  [515, 445, 275, 480], [275, 467, 272, 490], [275, 467, 217, 473], [272, 490, 232, 495], [520, 490, 467, 500], [462, 480, 465, 525], [462, 480, 257, 515], [465, 525, 442, 530], [427, 505, 140, 558],
  [438, 512, 193, 573], [442, 543, 243, 588], [425, 505, 438, 512], [438, 512, 442, 543],
];
const branchesBackbone: Branches = [
  [1232, 785, 1198, 948], [1198, 948, 1160, 938, 1108, 945], [1108, 945, 1116, 995], [1116, 995, 1075, 1022], [1075, 1022, 1103, 1085],
  [1103, 1085, 1070, 1120, 1055, 1183], [1055, 1183, 1048, 1183], [1232, 785, 1285, 805, 1335, 848], [1335, 848, 1346, 825],
];
const dashesLeft: Branches = [
  [163, 1450, 152, 1420], [145, 1390, 118, 1315], [112, 1285, 100, 1180], [95, 1145, 90, 1055], [90, 1018, 90, 925], [94, 890, 104, 800], [115, 768, 134, 680],
  [148, 645, 178, 565], [190, 530, 228, 450], [245, 420, 285, 350], [307, 325, 325, 300], [330, 295, 355, 265], [380, 235, 437, 178], [460, 158, 523, 110],
  [688, 125, 758, 93], [783, 88, 855, 65], [883, 62, 955, 43], [983, 40, 1055, 28], [1085, 25, 1157, 18], [1185, 17, 1258, 17], [1287, 17, 1358, 20], [1385, 22, 1460, 30], [1488, 33, 1560, 47],
];
const dashesRight: Branches = [
  [40, 55, 108, 80], [135, 90, 203, 128], [228, 143, 290, 192], [310, 210, 368, 270], [388, 295, 437, 367], [452, 393, 492, 473], [503, 503, 532, 590],
  [540, 622, 560, 712], [565, 745, 578, 838], [582, 870, 590, 962], [592, 998, 593, 1090], [593, 1125, 593, 1217], [592, 1252, 589, 1345], [588, 1380, 587, 1418],
];
const arrowShaft: Branches = [[218, 172, 390, 350]];
const arrowHead: Branches = [[408, 325, 373, 375, 442, 405, 408, 325]];
const scaleBar: Branches = [[767, 505, 838, 505]];
const starOutline: Branches = [[612, 335, 616.5, 347, 629, 347, 619, 355, 623, 368, 612, 360, 601, 368, 605, 355, 595, 347, 607.5, 347, 612, 335]];
const identity = { ox: 0, oy: 0, sx: 1, sy: 1 };

const treeLabels: [string, number, number, string, string, number][] = [
  ["L1", 129, 246, "#e574b5", `normal 36px ${HUMAN}`, 0],
  ["L7", 221, 105, "#fdd34a", `normal 36px ${HUMAN}`, 0],
  ["L4", 504, 46, "#ee4a35", `normal 36px ${HUMAN}`, 0],
  ["L3", 752, 76, "#3f2f90", `normal 36px ${HUMAN}`, 0],
  ["L2", 1000, 264, "#3f62b0", `normal 36px ${HUMAN}`, 0],
  ["L5", 118, 413, "#7a3f10", `normal 36px ${HUMAN}`, 0],
  ["L6", 83, 494, "#2e8540", `normal 36px ${HUMAN}`, 0],
  ["NCG", 149, 72, "#111", `normal 29px ${HUMAN}`, 42],
  ["C175T", 640, 385, "#f7941d", `bold 22px ${SANS}`, 0],
  ["0.0050", 804, 530, "#1a1a1a", `normal 31px ${HUMAN}`, 0],
  ["A", 16, 19, "#111", `bold 26px ${SANS}`, 0],
];

function toLine(list: Branches, v: any) {
  const out: any[] = [];
  list.forEach((p) => {
    for (let i = 0; i < p.length; i += 2) out.push({ x: v.ox + p[i] * v.sx, y: v.oy + p[i + 1] * v.sy });
    out.push({ x: 0, y: null });
  });
  return out;
}
function branchSet(list: Branches, v: any, color: string, width: number, extra: any = {}) {
  return { data: toLine(list, v), showLine: true, borderColor: color, borderWidth: width, pointRadius: 0, spanGaps: false, clip: false, borderJoinStyle: "round", ...extra };
}

function makeTree(canvas: HTMLCanvasElement) {
  const annot = {
    id: "annotA",
    afterDatasetsDraw(chart: any) {
      const c = chart.ctx, sx = chart.scales.x, sy = chart.scales.y;
      treeLabels.forEach(([t, x, y, color, font, rot]) => {
        c.save();
        c.translate(sx.getPixelForValue(x), sy.getPixelForValue(y));
        c.rotate((rot * Math.PI) / 180);
        c.fillStyle = color;
        c.font = font;
        c.textAlign = "center";
        c.textBaseline = "middle";
        c.fillText(t, 0, 0);
        c.restore();
      });
    },
  };
  return new Chart(canvas, {
    type: "scatter",
    data: {
      datasets: [
        branchSet(arrowHead, viewFull, "#1a1a1a", 3.5, { fill: "shape", backgroundColor: "#8b8b8b" }),
        branchSet(arrowShaft, viewFull, "#1a1a1a", 7),
        branchSet(starOutline, identity, "#f7941d", 1, { fill: "shape", backgroundColor: "#f7941d" }),
        branchSet(scaleBar, identity, "#1a1a1a", 7.5),
        branchSet(branchNCG, viewL1, "#f0359f", 7),
        branchSet(branchesBackbone, viewFull, "#111", 2.8),
        branchSet(branchesRootPink, viewFull, "#e574b5", 2.8),
        branchSet(branchesL1, viewL1, "#e574b5", 2.7),
        branchSet(branchesL7, viewFull, "#f8c81c", 2.8),
        branchSet(branchesRootRed, viewFull, "#ee1c25", 2.8),
        branchSet(branchesL4, viewL4, "#ee1c25", 2.7),
        branchSet(branchesL3, viewL3, "#3b2a8c", 2.7),
        branchSet(branchesL2Upper, viewL3, "#2f55a8", 2.7),
        branchSet(branchesL2Lower, viewL2, "#2f55a8", 2.5),
        branchSet(branchesL2Thick, viewL2, "#2f55a8", 4),
        branchSet(branchesL5, viewL56, "#7a3f10", 2.5),
        branchSet(branchesL6, viewL56, "#2e7d32", 2.3),
        branchSet(dashesLeft, viewFull, "#1a1a1a", 3.8),
        branchSet(dashesRight, viewRight, "#1a1a1a", 3.8),
      ] as any,
    },
    options: {
      animation: false,
      responsive: false,
      maintainAspectRatio: false,
      plugins: { legend: { display: false }, tooltip: { enabled: false } },
      scales: {
        x: { type: "linear", min: 0, max: 1140, display: false },
        y: { type: "linear", min: 0, max: 620, reverse: true, display: false },
      },
    } as any,
    plugins: [annot],
  } as any);
}

function Panel({ rect, build }: { rect: number[]; build: (c: HTMLCanvasElement) => any }) {
  const ref = useRef<HTMLCanvasElement>(null);
  useEffect(() => {
    const chart = build(ref.current as HTMLCanvasElement);
    return () => chart.destroy();
  }, []);
  return (
    <canvas
      ref={ref}
      width={rect[2]}
      height={rect[3]}
      style={{ position: "absolute", left: rect[0], top: rect[1], width: rect[2], height: rect[3] }}
    />
  );
}

function makeLetters(canvas: HTMLCanvasElement, items: [string, number, number][]) {
  const annot = {
    id: "letters",
    afterDraw(chart: any) {
      const c = chart.ctx, sx = chart.scales.x, sy = chart.scales.y;
      c.save();
      c.fillStyle = "#111";
      c.font = `bold 26px ${SANS}`;
      c.textAlign = "center";
      c.textBaseline = "middle";
      items.forEach(([t, x, y]) => c.fillText(t, sx.getPixelForValue(x), sy.getPixelForValue(y)));
      c.restore();
    },
  };
  return new Chart(canvas, {
    type: "scatter",
    data: { datasets: [{ data: [] }] },
    options: {
      animation: false, responsive: false, maintainAspectRatio: false,
      plugins: { legend: { display: false }, tooltip: { enabled: false } },
      scales: { x: { type: "linear", min: 0, max: 40, display: false }, y: { type: "linear", min: 0, max: 40, reverse: true, display: false } },
    } as any,
    plugins: [annot],
  } as any);
}
const panelB: [string, number, number][] = [["B", 17.5, 17.5]];
const panelC: [string, number, number][] = [["C", 17, 17.5]];
const panelD: [string, number, number][] = [["D", 16.5, 17]];

function BarPanel({ spec }: { spec: Spec }) {
  return <Panel rect={spec.rect} build={(c) => makeBarChart(c, spec)} />;
}

export default function App() {
  return (
    <div style={{ position: "absolute", left: 0, top: 0, width: 1549, height: 1920, background: "#fff", overflow: "hidden" }}>
      <Panel rect={[0, 0, 1140, 620]} build={makeTree} />
      <Panel rect={[0, 660, 1120, 310]} build={makeAlignment} />
      {specs.map((s, i) => (
        <BarPanel key={i} spec={s} />
      ))}
      <Panel rect={[0, 660, 40, 40]} build={(c) => makeLetters(c, panelB)} />
      <Panel rect={[0, 1018, 40, 40]} build={(c) => makeLetters(c, panelC)} />
      <Panel rect={[0, 1464, 40, 40]} build={(c) => makeLetters(c, panelD)} />
    </div>
  );
}
